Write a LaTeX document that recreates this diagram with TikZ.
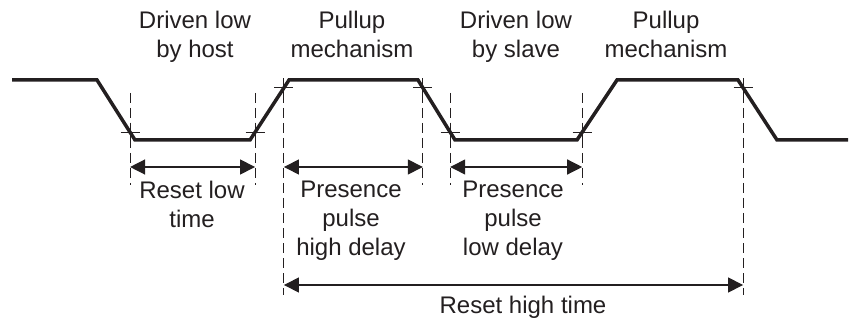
\documentclass[tikz,border=0pt]{standalone}
\usepackage{fontspec}
\setmainfont{Liberation Sans}
\usetikzlibrary{arrows.meta,calc,positioning}
\definecolor{ink}{RGB}{35,31,32}

\begin{document}
\begin{tikzpicture}[x=1pt,y=-1pt,
    wave/.style={ink, line width=3.5pt, line join=miter},
    guide/.style={ink, line width=1.1pt, dash pattern=on 10pt off 5pt},
    crossmark/.style={ink, line width=0.9pt},
    span/.style={ink, line width=1.3pt,
        {Triangle[length=15pt,width=15pt]}-{Triangle[length=15pt,width=15pt]}},
    txt/.style={text=ink, font=\fontsize{24}{29}\selectfont, align=center,
        inner sep=0pt, anchor=north}]
    \useasboundingbox (0,0) rectangle (850,320);

    % Waveform corners
    \coordinate (w0) at (12,80);
    \coordinate (w1) at (97,80);
    \coordinate (w2) at (135,140);
    \coordinate (w3) at (250,140);
    \coordinate (w4) at (289,80);
    \coordinate (w5) at (418,80);
    \coordinate (w6) at (455,140);
    \coordinate (w7) at (577,140);
    \coordinate (w8) at (617,80);
    \coordinate (w9) at (738,80);
    \coordinate (w10) at (777,140);
    \coordinate (w11) at (848,140);
    \draw[wave] (w0) -- (w1) -- (w2) -- (w3) -- (w4) -- (w5) -- (w6)
        -- (w7) -- (w8) -- (w9) -- (w10) -- (w11);

    % Edge points
    \coordinate (e1) at ($(w1)!0.87!(w2)$);
    \coordinate (e2) at ($(w3)!0.13!(w4)$);
    \coordinate (e3) at ($(w3)!0.87!(w4)$);
    \coordinate (e4) at ($(w5)!0.13!(w6)$);
    \coordinate (e5) at ($(w5)!0.87!(w6)$);
    \coordinate (e6) at ($(w7)!0.13!(w8)$);
    \coordinate (e7) at ($(w9)!0.13!(w10)$);

    % Crosses
    \foreach \i in {1,...,7}
        \draw[crossmark] ($(e\i)+(-9.5,0)$) -- ($(e\i)+(9.5,0)$)
            ($(e\i)+(0,-9.5)$) -- ($(e\i)+(0,9.5)$);

    % Guide levels
    \coordinate (gtop) at (0,93);
    \coordinate (gbot) at (0,185);
    \coordinate (gfar) at (0,295);
    \coordinate (d1) at (0,167);
    \coordinate (d2) at (0,285);

    % Dashed guides
    \foreach \i in {1,2,4,5,6}
        \draw[guide] (e\i |- gtop) -- (e\i |- gbot);
    \foreach \i in {3,7}
        \draw[guide] (e\i |- gtop) -- (e\i |- gfar);

    % Timing spans
    \draw[span] (e1 |- d1) -- (e2 |- d1);
    \draw[span] (e3 |- d1) -- (e4 |- d1);
    \draw[span] (e5 |- d1) -- (e6 |- d1);
    \draw[span] (e3 |- d2) -- (e7 |- d2);

    % Phase labels
    \node[txt] (host) at (195,11) {Driven low\\by host};
    \node[txt] (pull1) at (352,11) {Pullup\\mechanism};
    \node[txt] (slave) at (516,11) {Driven low\\by slave};
    \node[txt] (pull2) at (666,11) {Pullup\\mechanism};

    % Timing labels
    \node[txt] (rstlow) at (192,181) {Reset low\\time};
    \node[txt] (pphigh) at (351,181) {Presence\\pulse\\high delay};
    \node[txt] (pplow) at (513,181) {Presence\\pulse\\low delay};
    \node[txt] (rsthigh) at (523,296) {Reset high time};
\end{tikzpicture}
\end{document}
